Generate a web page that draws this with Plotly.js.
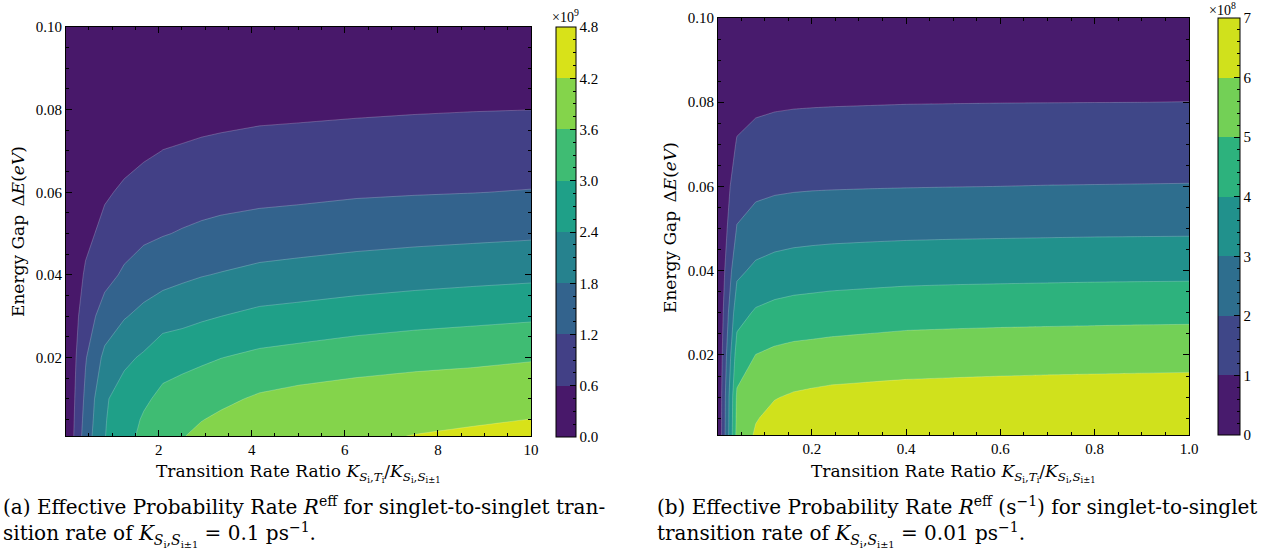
<!DOCTYPE html>
<html>
<head>
<meta charset="utf-8">
<script src="https://cdn.plot.ly/plotly-3.0.1.min.js"></script>
<style>
html,body{margin:0;padding:0;background:#fff;}
#chart{width:1271px;height:550px;}
</style>
</head>
<body>
<div id="chart"></div>
<script>
// ---------- Panel (a): K_SS = 0.1 ps^-1, values in units of 1e9 ----------
const ratioA = [0.01, 0.43, 0.84, 1.26, 1.68, 2.09, 2.51, 2.92, 3.34, 4.17, 5, 6.25, 7.5, 8.75, 10];
const gapA = [0.001, 0.005, 0.01, 0.02, 0.03, 0.04, 0.05, 0.06, 0.07, 0.08, 0.09, 0.1];
const rateA = [
  [0.01, 1.5,   2.38,  2.8,   3.14,  3.36,  3.57,  3.74,  3.82,  3.95, 4.05, 4.14,  4.21,  4.27,  4.32],
  [0.01, 1.42,  2.36,  2.74,  3.06,  3.27,  3.47,  3.58,  3.7,   3.84, 3.95, 4.04,  4.11,  4.15,  4.204],
  [0.01, 1.33,  2.33,  2.65,  2.91,  3.13,  3.3,   3.365, 3.48,  3.68, 3.79, 3.88,  3.93,  3.94,  3.994],
  [0.01, 1.159, 1.94,  2.28,  2.475, 2.78,  2.8,   2.905, 2.99,  3.13, 3.21, 3.335, 3.426, 3.49,  3.555],
  [0.01, 0.93,  1.445, 1.757, 1.96,  2.13,  2.23,  2.318, 2.398, 2.54, 2.6,  2.7,   2.782, 2.846, 2.91],
  [0.01, 0.68,  1.02,  1.28,  1.48,  1.6,   1.69,  1.773, 1.834, 1.95, 2.01, 2.098, 2.168, 2.226, 2.276],
  [0.01, 0.45,  0.76,  0.967, 1.09,  1.17,  1.24,  1.3,   1.35,  1.45, 1.5,  1.57,  1.624, 1.666, 1.71],
  [0.01, 0.32,  0.53,  0.684, 0.8,   0.89,  0.933, 0.98,  1.014, 1.04, 1.07, 1.134, 1.166, 1.191, 1.224],
  [0.01, 0.23,  0.37,  0.425, 0.525, 0.606, 0.64,  0.68,  0.714, 0.77, 0.79, 0.828, 0.862, 0.882, 0.906],
  [0.01, 0.15,  0.25,  0.3,   0.37,  0.4,   0.42,  0.44,  0.455, 0.49, 0.51, 0.54,  0.565, 0.585, 0.598],
  [0.01, 0.1,   0.16,  0.2,   0.23,  0.26,  0.27,  0.28,  0.29,  0.32, 0.34, 0.355, 0.37,  0.375, 0.38],
  [0.01, 0.06,  0.095, 0.115, 0.135, 0.15,  0.16,  0.17,  0.18,  0.19, 0.2,  0.21,  0.215, 0.22,  0.22]
];
const levelsA = [0, 0.6, 1.2, 1.8, 2.4, 3.0, 3.6, 4.2, 4.8];
const levelLabelsA = ['0.0', '0.6', '1.2', '1.8', '2.4', '3.0', '3.6', '4.2', '4.8'];
const exponentA = '9';

// ---------- Panel (b): K_SS = 0.01 ps^-1, values in units of 1e8 ----------
const ratioB = [0.001, 0.041, 0.081, 0.121, 0.161, 0.201, 0.241, 0.321, 0.401, 0.5, 0.6, 0.7, 0.8, 0.9, 1.0];
const gapB = [0.001, 0.005, 0.01, 0.02, 0.03, 0.04, 0.05, 0.06, 0.07, 0.08, 0.09, 0.1];
const rateB = [
  [0.01, 5.3,   6.12,  6.45,  6.55,  6.6,   6.65,  6.7,   6.72,  6.74,  6.76,  6.77,  6.78,   6.79,  6.8],
  [0.01, 5.22,  5.94,  6.26,  6.365, 6.42,  6.46,  6.51,  6.543, 6.566, 6.588, 6.605, 6.616,  6.627, 6.638],
  [0.01, 5.15,  5.63,  5.954, 6.1,   6.18,  6.245, 6.295, 6.338, 6.367, 6.396, 6.418, 6.432,  6.446, 6.461],
  [0.01, 4.45,  5.012, 5.19,  5.29,  5.338, 5.394, 5.468, 5.535, 5.57,  5.602, 5.625, 5.643,  5.661, 5.675],
  [0.01, 3.626, 4.117, 4.29,  4.385, 4.432, 4.482, 4.547, 4.617, 4.653, 4.68,  4.7,   4.72,   4.737, 4.747],
  [0.01, 2.79,  3.2,   3.368, 3.46,  3.51,  3.556, 3.604, 3.647, 3.676, 3.695, 3.714, 3.733,  3.743, 3.752],
  [0.01, 2.05,  2.404, 2.54,  2.616, 2.655, 2.682, 2.718, 2.748, 2.771, 2.787, 2.803, 2.818,  2.826, 2.834],
  [0.01, 1.55,  1.766, 1.855, 1.899, 1.924, 1.939, 1.959, 1.975, 1.99,  2.002, 2.016, 2.024,  2.032, 2.04],
  [0.01, 1.07,  1.269, 1.35,  1.394, 1.417, 1.432, 1.452, 1.47,  1.483, 1.493, 1.5,   1.505,  1.51,  1.515],
  [0.01, 0.7,   0.84,  0.895, 0.923, 0.937, 0.948, 0.962, 0.976, 0.983, 0.99,  0.993, 0.9965, 0.999, 1.005],
  [0.01, 0.45,  0.55,  0.58,  0.6,   0.61,  0.62,  0.63,  0.64,  0.645, 0.65,  0.655, 0.66,   0.665, 0.67],
  [0.01, 0.28,  0.3,   0.31,  0.32,  0.32,  0.33,  0.33,  0.335, 0.34,  0.34,  0.345, 0.345,  0.35,  0.35]
];
const levelsB = [0, 1, 2, 3, 4, 5, 6, 7];
const levelLabelsB = ['0', '1', '2', '3', '4', '5', '6', '7'];
const exponentB = '8';

// viridis samples at band mid-points (as matplotlib contourf does)
const bandColorsA = ['#48186a', '#424086', '#33638d', '#26828e', '#1fa088', '#3fbc73', '#84d44b', '#d8e219'];
const bandColorsB = ['#481b6d', '#3f4788', '#2e6e8e', '#21918c', '#2db27d', '#73d056', '#d0e11c'];

// ---------- helpers ----------
const NUMFONT = 'Liberation Serif, DejaVu Serif, serif';
const TXTFONT = 'DejaVu Serif, Liberation Serif, serif';
const W = 1271, H = 550;
const px = v => v / W;
const py = v => (H - v) / H;

// colour scale used by the contour fill: one plateau per band (robust to band-centre mapping)
function plateauScale(colors) {
  const n = colors.length, N = n + 1, s = [];
  colors.forEach((c, k) => {
    const lo = k === 0 ? 0 : (k + 0.5) / N;
    const hi = k === n - 1 ? 1 : (k + 1.5) / N;
    s.push([lo, c], [hi, c]);
  });
  return s;
}
// hard-stepped scale for the colour bar spanning [first level, last level]
function stepScale(colors) {
  const n = colors.length, s = [];
  colors.forEach((c, k) => { s.push([k / n, c], [(k + 1) / n, c]); });
  return s;
}
function minorVals(levels, nMinor) {
  const v = [];
  for (let i = 0; i < levels.length - 1; i++) {
    const step = (levels[i + 1] - levels[i]) / (nMinor + 1);
    for (let m = 0; m <= nMinor; m++) v.push(+(levels[i] + m * step).toFixed(6));
  }
  v.push(levels[levels.length - 1]);
  return v;
}

const domA = {x: [px(66), px(531)], y: [py(436), py(27)]};
const domB = {x: [px(718), px(1189)], y: [py(435), py(18)]};

function cbarBase(x0, top, bottom, thick) {
  return {
    x: px(x0), xanchor: 'left', xpad: 0,
    y: (py(top) + py(bottom)) / 2, yanchor: 'middle', ypad: 0,
    len: (bottom - top) / H, lenmode: 'fraction',
    thickness: thick, thicknessmode: 'pixels',
    ticks: 'inside', tickwidth: 1, tickcolor: '#000',
    tickfont: {family: NUMFONT, size: 15, color: '#000'}
  };
}

function contourTrace(x, y, z, levels, colors, xa, ya) {
  return {
    type: 'contour', x: x, y: y, z: z, xaxis: xa, yaxis: ya,
    autocontour: false,
    contours: {start: levels[0], end: levels[levels.length - 1], size: levels[1] - levels[0], coloring: 'fill', showlines: true},
    line: {width: 0.6, color: 'rgba(255,255,255,0.35)', smoothing: 0},
    colorscale: plateauScale(colors),
    showscale: false,
    hoverinfo: 'skip'
  };
}
// invisible heat maps that only carry the colour bars
function barTrace(x, y, levels, colors, xa, ya, cb) {
  return {
    type: 'heatmap', x: [x[0], x[1]], y: [y[0], y[1]],
    z: [[levels[0], levels[levels.length - 1]], [levels[0], levels[levels.length - 1]]],
    zmin: levels[0], zmax: levels[levels.length - 1],
    xaxis: xa, yaxis: ya, opacity: 0, hoverinfo: 'skip',
    colorscale: stepScale(colors), showscale: true, colorbar: cb
  };
}
function labelTrace(x, y, levels, xa, ya, cb) {
  return {
    type: 'heatmap', x: [x[0], x[1]], y: [y[0], y[1]],
    z: [[levels[0], levels[levels.length - 1]], [levels[0], levels[levels.length - 1]]],
    zmin: levels[0], zmax: levels[levels.length - 1],
    xaxis: xa, yaxis: ya, opacity: 0, hoverinfo: 'skip',
    colorscale: [[0, 'rgba(0,0,0,0)'], [1, 'rgba(0,0,0,0)']], showscale: true, colorbar: cb
  };
}

const cbA1 = Object.assign(cbarBase(556, 27, 437, 20), {
  outlinewidth: 1, outlinecolor: '#000',
  tickmode: 'array', tickvals: minorVals(levelsA, 3), ticklen: 3, showticklabels: false
});
const cbA2 = Object.assign(cbarBase(556, 27, 437, 20), {
  outlinewidth: 0, tickmode: 'array', tickvals: levelsA, ticktext: levelLabelsA, ticklen: 6
});
const cbB1 = Object.assign(cbarBase(1218, 18, 435, 22), {
  outlinewidth: 1, outlinecolor: '#000',
  tickmode: 'array', tickvals: minorVals(levelsB, 4), ticklen: 3, showticklabels: false
});
const cbB2 = Object.assign(cbarBase(1218, 18, 435, 22), {
  outlinewidth: 0, tickmode: 'array', tickvals: levelsB, ticktext: levelLabelsB, ticklen: 6
});

const traces = [
  contourTrace(ratioA, gapA, rateA, levelsA, bandColorsA, 'x', 'y'),
  contourTrace(ratioB, gapB, rateB, levelsB, bandColorsB, 'x2', 'y2'),
  barTrace(ratioA, gapA, levelsA, bandColorsA, 'x', 'y', cbA1),
  labelTrace(ratioA, gapA, levelsA, 'x', 'y', cbA2),
  barTrace(ratioB, gapB, levelsB, bandColorsB, 'x2', 'y2', cbB1),
  labelTrace(ratioB, gapB, levelsB, 'x2', 'y2', cbB2)
];

function axis(dom, range, dtick, minorDtick, fmt, anchor) {
  return {
    domain: dom, range: range, anchor: anchor,
    tickmode: 'linear', tick0: 0, dtick: dtick, tickformat: fmt,
    ticks: 'inside', ticklen: 6, tickwidth: 1, tickcolor: '#000',
    minor: {tick0: 0, dtick: minorDtick, ticks: 'inside', ticklen: 3, tickwidth: 1, tickcolor: '#000', showgrid: false},
    showline: true, linecolor: '#000', linewidth: 1, mirror: 'allticks',
    showgrid: false, zeroline: false,
    tickfont: {family: NUMFONT, size: 15, color: '#000'}
  };
}

const kRatio = 'Transition Rate Ratio <i>K</i><sub><i>S</i><sub>i</sub>,<i>T</i><sub>i</sub></sub>/<i>K</i><sub><i>S</i><sub>i</sub>,<i>S</i><sub>i±1</sub></sub>';
const yTitle = 'Energy Gap\u2002Δ<i>E</i>(<i>eV</i>)';
const kSS = '<i>K</i><sub><i>S</i><sub>i</sub>,<i>S</i><sub>i±1</sub></sub>';

function ann(text, x, y, opts) {
  return Object.assign({
    text: text, x: px(x), y: py(y), xref: 'paper', yref: 'paper',
    showarrow: false, xanchor: 'center', yanchor: 'middle',
    font: {family: TXTFONT, size: 17, color: '#000'}
  }, opts || {});
}
const capFont = {family: TXTFONT, size: 20, color: '#000'};

const captionA = '(a) Effective Probability Rate <i>R</i><sup>eff</sup> for singlet-to-singlet tran-<br>sition rate of ' + kSS + ' = 0.1 ps<sup>−1</sup>.';
const captionB = '(b) Effective Probability Rate <i>R</i><sup>eff</sup> (s<sup>−1</sup>) for singlet-to-singlet<br>transition rate of ' + kSS + ' = 0.01 ps<sup>−1</sup>.';

const annotations = [
  ann(kRatio, 298, 459, {yanchor: 'top'}),
  ann(kRatio, 953, 459, {yanchor: 'top'}),
  ann(yTitle, 18, 232, {textangle: -90}),
  ann(yTitle, 670, 228, {textangle: -90}),
  ann('×10<sup>' + exponentA + '</sup>', 565, 16, {font: {family: NUMFONT, size: 14, color: '#000'}}),
  ann('×10<sup>' + exponentB + '</sup>', 1222, 9, {font: {family: NUMFONT, size: 14, color: '#000'}}),
  ann(captionA, 1, 521, {xanchor: 'left', align: 'left', font: capFont}),
  ann(captionB, 655, 521, {xanchor: 'left', align: 'left', font: capFont})
];

const layout = {
  width: W, height: H,
  margin: {l: 0, r: 0, t: 0, b: 0},
  paper_bgcolor: '#fff', plot_bgcolor: '#fff',
  showlegend: false,
  font: {family: NUMFONT, color: '#000'},
  xaxis: axis(domA.x, [ratioA[0], ratioA[ratioA.length - 1]], 2, 0.5, '', 'y'),
  yaxis: axis(domA.y, [gapA[0], gapA[gapA.length - 1]], 0.02, 0.005, '.2f', 'x'),
  xaxis2: axis(domB.x, [ratioB[0], ratioB[ratioB.length - 1]], 0.2, 0.05, '.1f', 'y2'),
  yaxis2: axis(domB.y, [gapB[0], gapB[gapB.length - 1]], 0.02, 0.005, '.2f', 'x2'),
  annotations: annotations
};

Plotly.newPlot('chart', traces, layout, {staticPlot: true, displayModeBar: false});
</script>
</body>
</html>
